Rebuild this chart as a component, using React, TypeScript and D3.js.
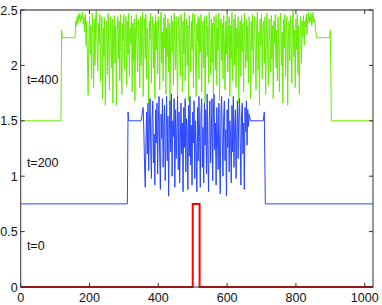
import React, { useEffect, useRef } from 'react';
import * as d3 from 'd3';

// x ticks / y ticks
const xTicks = [0, 200, 400, 600, 800, 1000];
const yTicks = [0, 0.5, 1, 1.5, 2, 2.5];

// t=0 : square pulse
const redX = [0, 500, 500, 520, 520, 1024];
const redY = [0, 0, 0.75, 0.75, 0, 0];

// t=200 : plateau + noisy middle (noisy part sampled every 2 units from x=356)
const blueEdgeLeft = [[0, 0.75], [310, 0.75], [312, 1.58], [314, 1.5], [350, 1.5]];
const blueEdgeRight = [[668, 1.5], [705, 1.5], [708, 1.58], [711, 0.75], [1024, 0.75]];
const blueNoiseStart = 356;
const blueNoise = [
  1.62, 1.40, 1.10, 0.90, 1.30, 1.58, 1.20, 1.66, 1.05, 1.44,
  1.70, 1.25, 0.98, 1.52, 1.68, 1.12, 1.38, 0.92, 1.60, 1.30,
  1.66, 1.02, 1.48, 1.72, 1.18, 0.88, 1.56, 1.34, 1.70, 1.08,
  1.46, 1.64, 0.96, 1.28, 1.72, 1.14, 1.54, 0.82, 1.40, 1.68,
  1.22, 1.74, 1.00, 1.50, 1.36, 1.70, 0.90, 1.60, 1.16, 1.44,
  1.72, 1.06, 1.58, 0.94, 1.32, 1.66, 1.20, 1.48, 0.86, 1.62,
  1.26, 1.70, 1.04, 1.52, 1.40, 0.88, 1.64, 1.18, 1.72, 1.10,
  1.46, 0.92, 1.58, 1.30, 1.68, 0.98, 1.50, 1.24, 0.86, 1.62,
  1.14, 1.72, 1.36, 0.90, 1.56, 1.70, 1.08, 1.44, 0.94, 1.66,
  1.28, 1.60, 1.02, 1.74, 1.20, 0.86, 1.52, 1.68, 1.12, 1.38,
  1.70, 0.96, 1.56, 1.74, 1.24, 1.48, 0.92, 1.62, 1.34, 1.06,
  1.66, 1.18, 0.84, 1.58, 1.72, 1.30, 1.00, 1.54, 1.68, 1.14,
  1.42, 0.82, 1.60, 1.26, 1.70, 1.04, 1.50, 1.36, 0.94, 1.64,
  1.22, 1.72, 1.08, 1.46, 1.60, 0.98, 1.38, 1.68, 1.16, 1.54,
  1.70, 1.32, 0.92, 1.56, 1.66, 1.20, 1.48, 0.88, 1.62, 1.40,
  1.68, 1.28, 1.60, 1.45, 1.56,
];

// t=400 : plateau + noisy middle (noisy part sampled every 2 units from x=160)
const greenEdgeLeft = [[0, 1.5], [117, 1.5], [119, 2.32], [121, 2.25], [158, 2.25]];
const greenEdgeRight = [[860, 2.25], [898, 2.25], [900, 2.32], [903, 1.5], [1024, 1.5]];
const greenNoiseStart = 160;
const greenNoise = [
  2.40, 2.36, 2.44, 2.38, 2.46, 2.41, 2.47, 2.39, 2.45, 2.42,
  2.48, 2.37, 2.44, 2.30, 2.46, 2.18, 2.40, 2.05, 1.73, 2.22,
  2.44, 2.10, 2.36, 1.88, 2.47, 2.28, 1.80, 2.42, 2.00, 2.45,
  2.50, 2.14, 1.95, 2.38, 2.20, 2.46, 1.85, 2.30, 2.44, 1.70,
  2.34, 2.08, 2.43, 1.64, 2.26, 2.40, 1.92, 2.47, 2.12, 1.78,
  2.44, 2.24, 1.98, 2.42, 1.66, 2.30, 2.45, 2.02, 2.36, 1.64,
  2.28, 2.44, 2.06, 2.40, 1.86, 2.46, 2.16, 1.74, 2.38, 2.22,
  2.46, 1.96, 2.32, 2.44, 1.82, 2.40, 2.10, 2.47, 1.90, 2.34,
  2.20, 2.45, 1.76, 2.38, 2.04, 2.42, 1.68, 2.30, 2.46, 2.12,
  1.94, 2.41, 2.26, 1.80, 2.44, 2.00, 2.36, 2.48, 1.72, 2.28,
  2.42, 2.06, 2.46, 1.88, 2.34, 2.18, 1.66, 2.40, 2.24, 2.47,
  1.84, 2.32, 2.44, 1.98, 2.38, 1.70, 2.46, 2.14, 2.40, 1.92,
  2.44, 2.26, 1.78, 2.36, 2.48, 2.02, 2.30, 1.86, 2.43, 2.16,
  2.46, 1.74, 2.34, 2.08, 2.42, 1.94, 2.38, 1.64, 2.28, 2.45,
  2.12, 2.40, 1.82, 2.47, 2.20, 1.96, 2.44, 2.04, 1.70, 2.36,
  2.44, 2.18, 1.90, 2.46, 2.32, 1.76, 2.40, 2.10, 2.48, 1.86,
  2.30, 2.42, 2.00, 2.36, 1.68, 2.45, 2.24, 1.94, 2.40, 2.14,
  2.47, 1.80, 2.34, 2.46, 2.06, 1.72, 2.38, 2.22, 2.44, 1.88,
  2.42, 2.12, 2.46, 1.76, 2.30, 2.40, 1.98, 2.44, 1.66, 2.26,
  2.45, 2.08, 2.36, 1.84, 2.48, 2.18, 1.92, 2.42, 2.02, 2.38,
  1.74, 2.44, 2.28, 1.96, 2.46, 1.82, 2.34, 2.14, 2.47, 1.68,
  2.32, 2.42, 2.04, 2.38, 1.88, 2.45, 2.20, 1.78, 2.40, 2.10,
  2.46, 1.94, 2.30, 2.44, 1.72, 2.36, 2.06, 2.48, 1.86, 2.24,
  2.42, 2.00, 2.46, 1.80, 2.34, 2.16, 2.44, 1.66, 2.28, 2.40,
  1.90, 2.45, 2.12, 2.38, 1.76, 2.47, 2.22, 1.98, 2.42, 2.04,
  2.36, 1.84, 2.44, 2.26, 1.70, 2.40, 2.14, 2.46, 1.92, 2.32,
  2.44, 2.08, 1.78, 2.38, 2.48, 1.96, 2.30, 1.64, 2.42, 2.18,
  2.46, 1.88, 2.34, 2.40, 2.02, 2.44, 1.74, 2.28, 2.47, 2.10,
  1.82, 2.42, 2.24, 1.94, 2.45, 2.06, 2.36, 1.70, 2.40, 2.20,
  2.46, 1.98, 2.32, 1.86, 2.44, 2.12, 1.76, 2.38, 2.47, 2.00,
  2.30, 1.66, 2.42, 2.16, 2.46, 1.90, 2.34, 2.44, 1.64, 2.26,
  2.40, 2.04, 2.45, 2.22, 1.84, 2.38, 2.50, 2.08, 2.32, 1.80,
  2.42, 2.14, 2.46, 1.92, 2.36, 1.74, 2.30, 2.44, 2.02, 2.40,
  2.26, 2.45, 2.18, 2.40, 2.34, 2.46, 2.28, 2.42, 2.48, 2.38,
  2.44, 2.40, 2.47, 2.36, 2.43, 2.48, 2.39, 2.42, 2.36, 2.30,
];

const labels = [
  { text: 't=400', x: 18, y: 1.83 },
  { text: 't=200', x: 18, y: 1.08 },
  { text: 't=0', x: 18, y: 0.33 },
];

function build(left, start, noise, right) {
  const pts = left.map(p => ({ x: p[0], y: p[1] }));
  noise.forEach((v, i) => pts.push({ x: start + i * 2, y: v }));
  right.forEach(p => pts.push({ x: p[0], y: p[1] }));
  return pts;
}

export default function App() {
  const ref = useRef(null);

  useEffect(() => {
    const svg = d3.select(ref.current);
    svg.selectAll('*').remove();

    const width = 382;
    const height = 305;
    const margin = { top: 10, right: 9, bottom: 18, left: 20.7 };
    const innerW = width - margin.left - margin.right;
    const innerH = height - margin.top - margin.bottom;

    const x = d3.scaleLinear().domain([0, 1024]).range([0, innerW]);
    const y = d3.scaleLinear().domain([0, 2.5]).range([innerH, 0]);

    const g = svg.append('g').attr('transform', `translate(${margin.left},${margin.top})`);
    const font = 'Liberation Sans, Arial, sans-serif';
    const fs = 12.5;

    const line = d3.line().x(d => x(d.x)).y(d => y(d.y));

    const green = build(greenEdgeLeft, greenNoiseStart, greenNoise, greenEdgeRight);
    const blue = build(blueEdgeLeft, blueNoiseStart, blueNoise, blueEdgeRight);
    const red = redX.map((v, i) => ({ x: v, y: redY[i] }));

    g.append('path').datum(green).attr('fill', 'none').attr('stroke', '#66ee00')
      .attr('stroke-width', 1).attr('d', line);
    g.append('path').datum(blue).attr('fill', 'none').attr('stroke', '#2846ff')
      .attr('stroke-width', 1).attr('d', line);
    g.append('path').datum(red).attr('fill', 'none').attr('stroke', '#ff0000')
      .attr('stroke-width', 2).attr('d', line);

    // box
    g.append('rect').attr('x', 0).attr('y', 0).attr('width', innerW).attr('height', innerH)
      .attr('fill', 'none').attr('stroke', '#333').attr('stroke-width', 1);
    g.append('line').attr('x1', 0).attr('x2', innerW).attr('y1', 0).attr('y2', 0)
      .attr('stroke', '#888').attr('stroke-width', 1.5);

    // inward ticks on all four sides
    const tl = 4;
    xTicks.forEach(t => {
      g.append('line').attr('x1', x(t)).attr('x2', x(t)).attr('y1', innerH).attr('y2', innerH - tl).attr('stroke', '#333');
      g.append('line').attr('x1', x(t)).attr('x2', x(t)).attr('y1', 0).attr('y2', tl).attr('stroke', '#333');
      g.append('text').attr('x', x(t)).attr('y', innerH + 15).attr('text-anchor', 'middle')
        .attr('font-family', font).attr('font-size', fs).attr('fill', '#111').text(String(t));
    });
    yTicks.forEach(t => {
      g.append('line').attr('x1', 0).attr('x2', tl).attr('y1', y(t)).attr('y2', y(t)).attr('stroke', '#333');
      g.append('line').attr('x1', innerW).attr('x2', innerW - tl).attr('y1', y(t)).attr('y2', y(t)).attr('stroke', '#333');
      g.append('text').attr('x', -3).attr('y', y(t) + 4.5).attr('text-anchor', 'end')
        .attr('font-family', font).attr('font-size', fs).attr('fill', '#111').text(String(t));
    });

    labels.forEach(l => {
      g.append('text').attr('x', x(l.x)).attr('y', y(l.y)).attr('font-family', font)
        .attr('font-size', fs).attr('fill', '#111').text(l.text);
    });
  }, []);

  return (
    <svg ref={ref} width={382} height={305}
      style={{ position: 'absolute', left: 0, top: 0, background: '#fff' }} />
  );
}
